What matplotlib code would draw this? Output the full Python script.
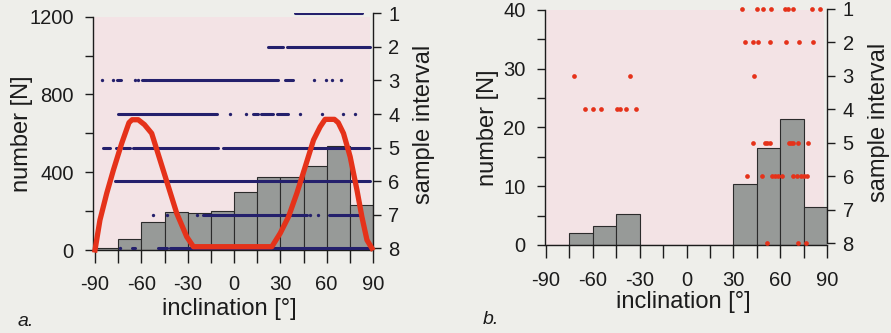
import matplotlib
matplotlib.use("Agg")
import matplotlib.pyplot as plt
import numpy as np

# ---- data ----
bin_edges = np.arange(-90, 91, 15)

# panel a: histogram counts per 15 deg bin
counts_a = [10, 55, 142, 194, 189, 202, 300, 375, 374, 434, 537, 231]

# panel a: red model curve (inclination, number)
curve_inc = [-90, -86.8, -82.4, -78.1, -72.7, -68.0, -66.0, -62.0, -58.0, -53.3,
             -47.9, -42.5, -37.1, -30.6, -26.3, 0.0, 24.5, 29.9, 35.3, 40.7,
             46.1, 51.5, 55.8, 59.0, 65.0, 67.5, 70.9, 75.2, 79.6, 82.8, 86.1, 89.3]
curve_num = [0, 154, 292, 411, 549, 655, 670, 670, 645, 600,
             463, 326, 189, 68, 17, 17, 17, 86, 171, 292,
             428, 566, 634, 672, 672, 655, 600, 480, 309, 171, 51, 9]

# panel a: sample interval rows 1..8, continuous stretches and isolated dots
segments_a = [
    [(39.6, 82.8)],
    [(22.3, 32.0), (34.2, 88.2)],
    [(-75.9, -73.4), (-59.7, -56.5), (-55.5, 28.8), (33.1, 38.5)],
    [(-74.9, -11.1), (12.4, 15.5), (17.5, 25.3), (27.9, 35.1)],
    [(-85.0, -80.3), (-76.4, -73.8), (-71.7, -67.3), (-65.2, -10.3), (-7.1, 87.1)],
    [(-77.0, 88.2)],
    [(-20.0, 47.2), (61.2, 82.8)],
    [(-66.2, -64.1), (-49.2, -43.5), (-41.4, 88.2)],
]
dots_a = [
    [],
    [],
    [-85.7, -78.5, -64.1, -61.9, 52.1, 59.7, 63.4, 69.2],
    [-2.5, 7.8, 42.8, 57.1, 70.7, 78.5],
    [],
    [],
    [-52.2, -43.5, -24.1, 49.2, 54.7],
    [-73.8],
]

# panel b: histogram counts per 15 deg bin
counts_b = [0, 2.1, 3.2, 5.2, 0, 0, 0, 0, 10.4, 16.5, 21.4, 6.4]

# panel b: sample interval rows 1..8, dots
dots_b = [
    [35.2, 44.8, 49.1, 54.0, 63.0, 65.0, 68.3, 80.0, 85.3],
    [37.3, 42.6, 45.9, 53.3, 63.6, 71.9, 80.6],
    [-72.1, -36.2, 43.1],
    [-64.8, -60.1, -55.0, -44.4, -42.6, -38.4, -32.4],
    [42.7, 50.1, 51.2, 53.3, 65.5, 66.8, 68.3, 71.5, 77.9],
    [38.4, 48.0, 54.4, 56.5, 58.7, 60.8, 67.8, 70.8, 73.0, 75.1, 76.8],
    [],
    [51.6, 71.5, 76.4],
]

FIG_BG = "#eeeeea"
PINK = "#f3e3e5"
BAR = "#979a98"
NAVY = "#24206c"
RED = "#e5321a"
INK = "#1c1c1c"
W, H = 891, 333


def fbox(left, top, right, bottom):
    return [left / W, 1 - bottom / H, (right - left) / W, (bottom - top) / H]


def style_axes(ax, ax2, ymax, ystep, ylabel_every, ytop, xpad):
    ax.set_facecolor("none")
    for s in ("top", "right"):
        ax.spines[s].set_visible(False)
    for s in ("top", "left", "bottom"):
        ax2.spines[s].set_visible(False)
    ax.spines["left"].set_bounds(0, ymax)
    ax.spines["bottom"].set_bounds(-90, 90)
    ax2.spines["right"].set_bounds(1, 8)
    for sp in list(ax.spines.values()) + [ax2.spines["right"]]:
        sp.set_color(INK)
        sp.set_linewidth(1.0)

    ax.set_xticks(bin_edges)
    ax.set_xticklabels([str(v) if v % 30 == 0 else "" for v in bin_edges])
    yt = np.arange(0, ymax + 0.1, ystep)
    ax.set_yticks(yt)
    ax.set_yticklabels([f"{v:g}" if v % ylabel_every == 0 else "" for v in yt])
    ax.set_ylim(0, ytop)
    ax.tick_params(axis="x", length=9, width=1.0, pad=xpad, labelsize=14.5, colors=INK)
    ax.tick_params(axis="y", length=6, width=1.0, pad=8, labelsize=14.5, colors=INK)

    ax2.set_yticks(range(1, 9))
    ax2.tick_params(axis="y", length=6, width=1.0, pad=5, labelsize=14.5, colors=INK)

    ax.axhspan(0, ymax, xmin=0.005, xmax=0.99, color=PINK, zorder=0, lw=0)


plt.rcParams["font.family"] = ["Liberation Sans", "DejaVu Sans"]
fig = plt.figure(figsize=(W / 100, H / 100), dpi=100, facecolor=FIG_BG)

# ---- panel a ----
ax_a = fig.add_axes(fbox(93, 13, 373, 250))
ax_a.set_xlim(-91.3, 90)
ax_a2 = ax_a.twinx()
style_axes(ax_a, ax_a2, 1200, 200, 400, 1219, 9)
ax_a2.set_ylim(8.05, 0.99)

ax_a.bar(bin_edges[:-1], counts_a, width=15, align="edge", color=BAR,
         edgecolor="#2b2b2b", linewidth=0.8, zorder=2)

for row, segs in enumerate(segments_a, start=1):
    for x0, x1 in segs:
        ax_a2.plot([x0, x1], [row, row], color=NAVY, lw=2.2,
                   solid_capstyle="round", zorder=3)
    if dots_a[row - 1]:
        ax_a2.plot(dots_a[row - 1], [row] * len(dots_a[row - 1]), "o",
                   color=NAVY, ms=2.4, mew=0, zorder=3)

ax_a2.plot(curve_inc, curve_num, color=RED, lw=3.8, solid_joinstyle="round",
           transform=ax_a.transData, zorder=4, clip_on=False)

# ---- panel b ----
ax_b = fig.add_axes(fbox(545, 9, 827.3, 245))
ax_b.set_xlim(-90.5, 90)
ax_b2 = ax_b.twinx()
style_axes(ax_b, ax_b2, 40, 5, 10, 40.17, 9.5)
ax_b2.set_ylim(8.05, 1.0)

ax_b.bar(bin_edges[:-1], counts_b, width=15, align="edge", color=BAR,
         edgecolor="#2b2b2b", linewidth=0.8, zorder=2)

for row, xs in enumerate(dots_b, start=1):
    if xs:
        ax_b2.plot(xs, [row] * len(xs), "o", color=RED, ms=3.4, mew=0,
                   zorder=3, clip_on=False)

# ---- labels ----
lab = dict(fontsize=17, color=INK, ha="center", va="center")
fig.text(22 / W, 1 - 134 / H, "number [N]", rotation=90, **lab)
fig.text(424 / W, 1 - 124 / H, "sample interval", rotation=90, **lab)
fig.text(229 / W, 1 - 309 / H, "inclination [°]", **lab)
fig.text(488 / W, 1 - 128 / H, "number [N]", rotation=90, **lab)
fig.text(879 / W, 1 - 122 / H, "sample interval", rotation=90, **lab)
fig.text(683 / W, 1 - 302 / H, "inclination [°]", **lab)

fig.text(26 / W, 1 - 322 / H, "a.", fontsize=14, style="italic", color=INK,
         ha="center", va="center")
fig.text(491 / W, 1 - 320 / H, "b.", fontsize=14, style="italic", color=INK,
         ha="center", va="center")

fig.savefig("out.png", dpi=100, facecolor=FIG_BG)
